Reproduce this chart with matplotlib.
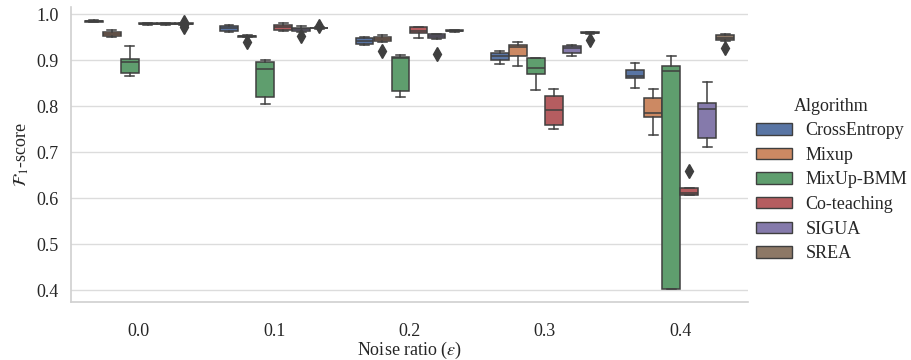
import colorsys
import matplotlib
matplotlib.use("Agg")
import matplotlib.pyplot as plt
import matplotlib.colors as mcolors
from matplotlib.patches import Patch

plt.rcParams['font.family'] = ['Liberation Serif', 'DejaVu Serif']
plt.rcParams['mathtext.fontset'] = 'stix'

noise_labels = ["0.0", "0.1", "0.2", "0.3", "0.4"]
algorithms = ["CrossEntropy", "Mixup", "MixUp-BMM", "Co-teaching", "SIGUA", "SREA"]
base_colors = ["#4C72B0", "#DD8452", "#55A868", "#C44E52", "#8172B3", "#937860"]

# rows: algorithms, columns: noise ratios
q1 = [
    [0.984, 0.963, 0.935, 0.901, 0.862],
    [0.952, 0.951, 0.941, 0.908, 0.777],
    [0.872, 0.819, 0.832, 0.870, 0.402],
    [0.978, 0.966, 0.959, 0.760, 0.607],
    [0.978, 0.963, 0.948, 0.916, 0.731],
    [0.978, 0.969, 0.963, 0.959, 0.943],
]
med = [
    [0.985, 0.970, 0.941, 0.908, 0.865],
    [0.958, 0.952, 0.946, 0.928, 0.785],
    [0.895, 0.881, 0.905, 0.884, 0.876],
    [0.979, 0.972, 0.963, 0.791, 0.612],
    [0.979, 0.968, 0.953, 0.927, 0.793],
    [0.979, 0.970, 0.964, 0.960, 0.949],
]
q3 = [
    [0.986, 0.975, 0.948, 0.915, 0.879],
    [0.962, 0.953, 0.950, 0.932, 0.817],
    [0.902, 0.895, 0.906, 0.905, 0.888],
    [0.980, 0.977, 0.972, 0.822, 0.621],
    [0.980, 0.970, 0.956, 0.931, 0.806],
    [0.980, 0.971, 0.965, 0.961, 0.955],
]
wlo = [
    [0.983, 0.962, 0.933, 0.892, 0.839],
    [0.950, 0.950, 0.940, 0.887, 0.738],
    [0.865, 0.805, 0.819, 0.835, 0.402],
    [0.977, 0.964, 0.948, 0.750, 0.606],
    [0.977, 0.962, 0.947, 0.908, 0.712],
    [0.977, 0.968, 0.962, 0.958, 0.942],
]
whi = [
    [0.987, 0.976, 0.950, 0.919, 0.893],
    [0.966, 0.954, 0.955, 0.940, 0.838],
    [0.931, 0.900, 0.912, 0.905, 0.910],
    [0.981, 0.981, 0.972, 0.837, 0.622],
    [0.981, 0.974, 0.957, 0.932, 0.853],
    [0.981, 0.972, 0.966, 0.962, 0.956],
]
fliers = [
    [[], [], [], [], []],
    [[], [0.940], [0.921], [], []],
    [[], [], [], [], []],
    [[], [], [], [], [0.660]],
    [[], [0.953], [0.913], [], []],
    [[0.983, 0.977, 0.972], [0.975], [], [0.943], [0.926]],
]


def desaturate(c, prop=0.75):
    r, g, b = mcolors.to_rgb(c)
    h, l, s = colorsys.rgb_to_hls(r, g, b)
    return colorsys.hls_to_rgb(h, l, s * prop)


colors = [desaturate(c) for c in base_colors]
gray = "#3f3f3f"
txt = "#262626"
fs = 13

fig = plt.figure(figsize=(9.12, 3.6), dpi=100)
ax = fig.add_axes([0.078, 0.161, 0.742, 0.820])

n_alg = len(algorithms)
width = 0.8
each = width / n_alg
lw = 1.1
for i, alg in enumerate(algorithms):
    offset = -width / 2 + each * (i + 0.5)
    stats = []
    for j in range(len(noise_labels)):
        stats.append(dict(q1=q1[i][j], med=med[i][j], q3=q3[i][j],
                          whislo=wlo[i][j], whishi=whi[i][j],
                          fliers=fliers[i][j]))
    pos = [j + offset for j in range(len(noise_labels))]
    ax.bxp(stats, positions=pos, widths=each * 0.98, patch_artist=True,
           showfliers=True, manage_ticks=False,
           boxprops=dict(facecolor=colors[i], edgecolor=gray, linewidth=lw),
           medianprops=dict(color=gray, linewidth=lw),
           whiskerprops=dict(color=gray, linewidth=lw),
           capprops=dict(color=gray, linewidth=lw),
           flierprops=dict(marker="d", markerfacecolor=gray,
                           markeredgecolor=gray, markersize=7))

ax.set_xlim(-0.5, len(noise_labels) - 0.5)
ax.set_ylim(0.374, 1.016)
ax.set_xticks(range(len(noise_labels)))
ax.set_xticklabels(noise_labels)
ax.set_yticks([0.4, 0.5, 0.6, 0.7, 0.8, 0.9, 1.0])
ax.set_yticklabels(["0.4", "0.5", "0.6", "0.7", "0.8", "0.9", "1.0"])
ax.tick_params(axis="both", labelsize=fs, length=0, colors=txt)
ax.tick_params(axis="x", pad=15)
ax.tick_params(axis="y", pad=9)
ax.yaxis.grid(True, color="#dcdcdc", linewidth=1)
ax.set_axisbelow(True)
for s in ["top", "right"]:
    ax.spines[s].set_visible(False)
for s in ["left", "bottom"]:
    ax.spines[s].set_color("#d0d0d0")
    ax.spines[s].set_linewidth(1.2)

ax.set_xlabel(r"Noise ratio ($\varepsilon$)", fontsize=fs, color=txt, labelpad=0)
ax.set_ylabel(r"$\mathcal{F}_1$-score", fontsize=fs, color=txt, labelpad=4)

handles = [Patch(facecolor=colors[i], edgecolor=gray, linewidth=1.0, label=a)
           for i, a in enumerate(algorithms)]
leg = fig.legend(handles=handles, title="Algorithm", loc="center left",
                 bbox_to_anchor=(0.811, 0.5), frameon=False, fontsize=fs,
                 title_fontsize=fs, handlelength=2.0, handleheight=0.6,
                 labelspacing=0.42, handletextpad=0.75)
for t in leg.get_texts():
    t.set_color(txt)
leg.get_title().set_color(txt)

fig.savefig("out.png", dpi=100)
